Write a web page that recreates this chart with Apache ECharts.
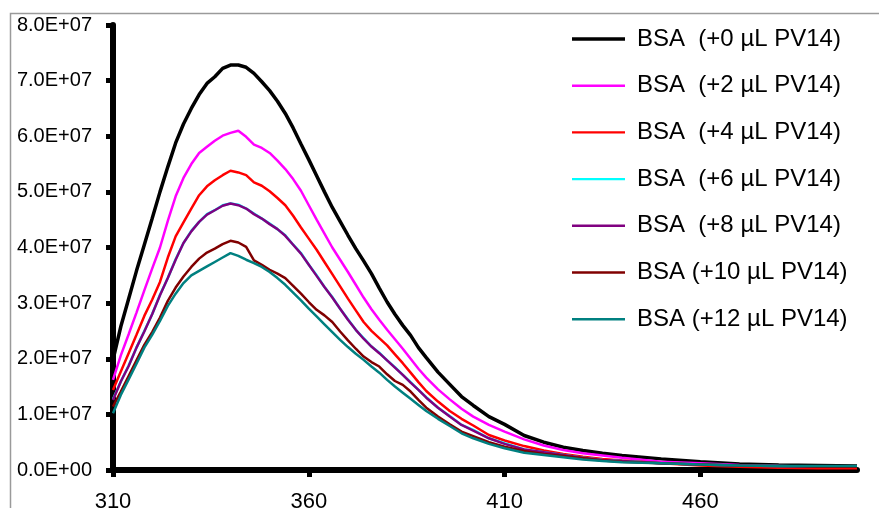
<!DOCTYPE html>
<html>
<head>
<meta charset="utf-8">
<script src="https://cdn.jsdelivr.net/npm/echarts@6/dist/echarts.min.js"></script>
<style>
html,body{margin:0;padding:0;background:#fff;}
#chart{width:879px;height:508px;}
</style>
</head>
<body>
<div id="chart"></div>
<script>
// Wavelength (nm)
const wavelengths = [310,312,314,316,318,320,322,324,326,328,330,332,334,336,338,340,342,344,346,348,350,352,354,356,358,360,362,364,366,368,370,372,374,376,378,380,382,384,386,388,390,393,396,399,402,406,410,415,420,425,430,435,440,450,460,470,480,490,500];
// Intensities in units of 1E+07
const SCALE = 1e7;
const bsa0  = [1.98,2.58,3.08,3.58,4.05,4.52,5.00,5.45,5.88,6.22,6.50,6.75,6.95,7.07,7.22,7.28,7.28,7.24,7.13,6.98,6.82,6.63,6.41,6.15,5.86,5.58,5.29,5.00,4.72,4.47,4.22,3.98,3.76,3.53,3.27,3.02,2.80,2.60,2.42,2.20,2.02,1.76,1.54,1.32,1.16,0.96,0.82,0.62,0.50,0.41,0.35,0.30,0.26,0.20,0.15,0.11,0.09,0.08,0.07];
const bsa2  = [1.62,2.06,2.44,2.83,3.23,3.62,4.00,4.48,4.92,5.25,5.50,5.70,5.81,5.92,6.01,6.06,6.10,5.99,5.85,5.79,5.70,5.56,5.41,5.23,5.02,4.76,4.50,4.25,4.00,3.78,3.56,3.33,3.10,2.89,2.70,2.52,2.35,2.18,2.00,1.82,1.66,1.45,1.27,1.10,0.96,0.81,0.69,0.55,0.44,0.36,0.30,0.26,0.22,0.15,0.12,0.09,0.07,0.06,0.05];
const bsa4  = [1.44,1.77,2.10,2.43,2.77,3.06,3.38,3.82,4.20,4.45,4.70,4.94,5.10,5.21,5.30,5.38,5.35,5.30,5.17,5.11,5.01,4.89,4.76,4.57,4.36,4.16,3.96,3.74,3.52,3.30,3.08,2.87,2.66,2.50,2.37,2.24,2.08,1.92,1.75,1.58,1.42,1.23,1.06,0.92,0.80,0.63,0.53,0.43,0.35,0.29,0.24,0.20,0.17,0.12,0.08,0.06,0.04,0.03,0.03];
const bsa6  = [1.27,1.59,1.88,2.20,2.50,2.80,3.15,3.45,3.79,4.08,4.30,4.46,4.60,4.67,4.76,4.79,4.77,4.70,4.61,4.52,4.43,4.33,4.22,4.05,3.90,3.69,3.50,3.29,3.11,2.90,2.71,2.52,2.37,2.22,2.11,1.97,1.85,1.71,1.58,1.44,1.31,1.12,0.97,0.81,0.72,0.57,0.48,0.37,0.32,0.27,0.22,0.18,0.16,0.12,0.10,0.08,0.07,0.06,0.06];
const bsa8  = [1.26,1.59,1.87,2.20,2.49,2.80,3.14,3.45,3.78,4.08,4.29,4.46,4.59,4.67,4.75,4.79,4.76,4.70,4.60,4.52,4.42,4.33,4.21,4.05,3.89,3.69,3.49,3.29,3.10,2.90,2.70,2.52,2.36,2.22,2.10,1.97,1.84,1.71,1.57,1.44,1.30,1.12,0.96,0.81,0.71,0.57,0.47,0.37,0.32,0.27,0.22,0.18,0.16,0.12,0.10,0.08,0.07,0.06,0.06];
const bsa10 = [1.14,1.41,1.69,1.97,2.25,2.48,2.74,3.04,3.28,3.48,3.65,3.80,3.91,3.98,4.06,4.12,4.09,4.01,3.77,3.69,3.60,3.53,3.45,3.31,3.17,3.02,2.88,2.78,2.66,2.49,2.33,2.18,2.04,1.94,1.86,1.72,1.60,1.53,1.41,1.26,1.12,0.96,0.82,0.69,0.61,0.50,0.42,0.34,0.29,0.25,0.21,0.17,0.15,0.12,0.10,0.08,0.07,0.06,0.06];
const bsa12 = [1.02,1.35,1.63,1.91,2.20,2.43,2.68,2.95,3.17,3.36,3.50,3.58,3.66,3.74,3.82,3.90,3.85,3.78,3.72,3.65,3.56,3.45,3.33,3.19,3.05,2.90,2.76,2.62,2.48,2.34,2.21,2.09,1.98,1.86,1.75,1.62,1.50,1.39,1.28,1.17,1.06,0.92,0.79,0.66,0.57,0.47,0.39,0.31,0.27,0.23,0.19,0.16,0.14,0.12,0.10,0.08,0.07,0.07,0.07];

const seriesNames = ['BSA  (+0 µL PV14)','BSA  (+2 µL PV14)','BSA  (+4 µL PV14)','BSA  (+6 µL PV14)','BSA  (+8 µL PV14)','BSA (+10 µL PV14)','BSA (+12 µL PV14)'];
const seriesData = [bsa0,bsa2,bsa4,bsa6,bsa8,bsa10,bsa12];
const seriesColors = ['#000000','#ff00ff','#ff0000','#00ffff','#800080','#800000','#008080'];
const seriesWidths = [3.5,2.5,2.5,2.5,2.5,2.5,2.5];
const legendIcons = ['path://M0,0L53,0L53,3.4L0,3.4Z','path://M0,0L53,0L53,2.4L0,2.4Z','path://M0,0L53,0L53,2.4L0,2.4Z','path://M0,0L53,0L53,2.4L0,2.4Z','path://M0,0L53,0L53,2.4L0,2.4Z','path://M0,0L53,0L53,2.4L0,2.4Z','path://M0,0L53,0L53,2.4L0,2.4Z'];
const xTickValues = [310,360,410,460];

const chart = echarts.init(document.getElementById('chart'), null, {renderer:'canvas'});
const FONT = 'Liberation Sans, Arial, sans-serif';

const series = seriesNames.map((name,i)=>({
  name: name,
  type: 'line',
  data: wavelengths.map((w,j)=>[w, seriesData[i][j]*SCALE]),
  symbol: 'none',
  showSymbol: false,
  smooth: false,
  color: seriesColors[i],
  lineStyle: {color: seriesColors[i], width: seriesWidths[i]},
  z: 2 + i
}));

chart.setOption({
  animation: false,
  backgroundColor: '#ffffff',
  graphic: [{
    type: 'rect',
    shape: {x: 10.5, y: 13.5, width: 900, height: 600},
    style: {fill: 'none', stroke: '#9a9a9a', lineWidth: 1.5},
    z: 0
  }],
  grid: {left: 113, right: 22, top: 25, bottom: 38, containLabel: false, outerBoundsMode: 'none'},
  legend: {
    orient: 'vertical',
    left: 572,
    top: 27,
    padding: 0,
    itemWidth: 53,
    itemHeight: 20,
    itemGap: 22.7,
    data: seriesNames.map((n,i)=>({name:n, icon: legendIcons[i], itemStyle: {color: seriesColors[i], borderWidth: 0}})),
    textStyle: {fontFamily: FONT, fontSize: 24, lineHeight: 20, color: '#000', padding: [0,0,0,7]}
  },
  xAxis: {
    type: 'value',
    min: 310,
    max: 500,
    axisLine: {show: true, onZero: false, lineStyle: {color: '#000', width: 6}},
    axisTick: {show: true, length: 7, customValues: xTickValues, lineStyle: {color: '#000', width: 5}},
    axisLabel: {customValues: xTickValues, margin: 21, fontFamily: FONT, fontSize: 22, color: '#000'},
    splitLine: {show: false}
  },
  yAxis: {
    type: 'value',
    min: 0,
    max: 8e7,
    interval: 1e7,
    axisLine: {show: true, lineStyle: {color: '#000', width: 6}},
    axisTick: {show: true, length: 7, lineStyle: {color: '#000', width: 5}},
    axisLabel: {
      margin: 21, fontFamily: FONT, fontSize: 20, color: '#000',
      formatter: v => v === 0 ? '0.0E+00' : (v/1e7).toFixed(1) + 'E+07'
    },
    splitLine: {show: false}
  },
  series: series
});
</script>
</body>
</html>
